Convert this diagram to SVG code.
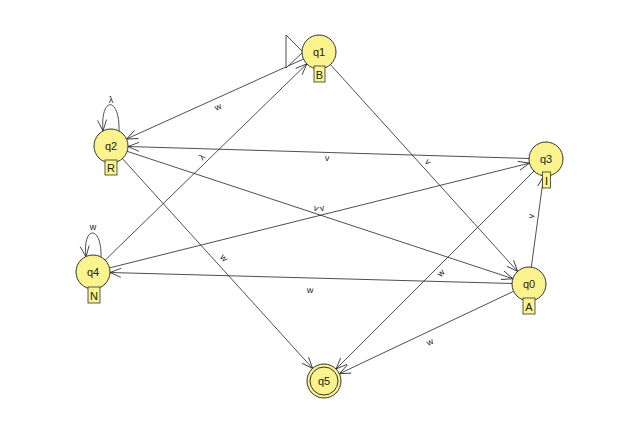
<svg xmlns="http://www.w3.org/2000/svg" width="640" height="426" viewBox="0 0 640 426">
<style>
.st{fill:#fbf38e;stroke:#333;stroke-width:1}
.box{fill:#fbf38e;stroke:#333;stroke-width:0.8}
.nl{font-family:"Liberation Sans",Arial,sans-serif;font-size:11px;fill:#222;text-anchor:middle;dominant-baseline:central}
.bl{font-family:"Liberation Sans",Arial,sans-serif;font-size:11px;fill:#222;text-anchor:middle;dominant-baseline:central}
.el{font-family:"Liberation Sans",Arial,sans-serif;font-size:9px;fill:#222;text-anchor:middle;dominant-baseline:central}
.e{fill:none;stroke:#222;stroke-width:0.8;marker-end:url(#ah)}
</style>
<defs>
<marker id="ah" markerUnits="userSpaceOnUse" markerWidth="14" markerHeight="12" viewBox="-12 -6 14 12" refX="0" refY="0" orient="auto">
<path d="M-11,-4.5 L0,0 L-11,4.5" fill="none" stroke="#222" stroke-width="0.8"/>
</marker>
</defs>
<rect width="640" height="426" fill="#fff"/>
<g id="connectors">
<line class="e" x1="303.5" y1="59" x2="126.5" y2="139"/>
<line class="e" x1="105.2" y1="260.1" x2="306.8" y2="63.9"/>
<line class="e" x1="330.4" y1="64.6" x2="517.6" y2="271.4"/>
<line class="e" x1="529" y1="158.5" x2="128" y2="146.5"/>
<line class="e" x1="127.1" y1="151.3" x2="512.9" y2="278.7"/>
<line class="e" x1="109.5" y1="267.9" x2="529.5" y2="163.1"/>
<line class="e" x1="122.4" y1="158.6" x2="312.6" y2="368.4"/>
<line class="e" x1="512" y1="283.5" x2="110" y2="272.5"/>
<line class="e" x1="531.3" y1="267.2" x2="543.7" y2="175.8"/>
<line class="e" x1="534" y1="171" x2="336" y2="369"/>
<line class="e" x1="513.6" y1="291.3" x2="339.4" y2="373.7"/>
<path class="e" d="M119,131 C120,96 100,96 103,131"/>
<path class="e" d="M101,257 C102,225 82,225 86,257"/>
<text class="el" transform="translate(218,107) rotate(-24.5)">w</text>
<text class="el" transform="translate(202,157) rotate(-44.5)">λ</text>
<text class="el" transform="translate(428,162) rotate(47.6)">v</text>
<text class="el" transform="translate(327,158) rotate(1.8)">v</text>
<text class="el" transform="translate(316,208) rotate(18.3)">v</text>
<text class="el" transform="translate(322,208) rotate(-13.9)">v</text>
<text class="el" transform="translate(224,258) rotate(48)">w</text>
<text class="el" transform="translate(310,290) rotate(1.6)">w</text>
<text class="el" transform="translate(531,216) rotate(-82.3)">v</text>
<text class="el" transform="translate(441,273) rotate(-45)">w</text>
<text class="el" transform="translate(430,342) rotate(-25.3)">w</text>
<text class="el" x="111" y="100">λ</text>
<text class="el" x="93" y="227">w</text>
</g>
<g id="q1">
<path d="M286,35 L286,68 L303,52 Z" fill="#fff" stroke="#222" stroke-width="0.8"/>
<circle class="st" cx="319" cy="52" r="17"/>
<text class="nl" x="319" y="52">q1</text>
<rect class="box" x="314" y="66" width="11" height="16"/>
<text class="bl" x="319.5" y="74.5">B</text>
</g>
<g id="q2">
<circle class="st" cx="111" cy="146" r="17"/>
<text class="nl" x="111" y="146">q2</text>
<rect class="box" x="105" y="160" width="12" height="15"/>
<text class="bl" x="111" y="168">R</text>
</g>
<g id="q3">
<circle class="st" cx="546" cy="159" r="17"/>
<text class="nl" x="546" y="159">q3</text>
<rect class="box" x="542.5" y="172" width="8" height="16"/>
<text class="bl" x="546.5" y="180.5">I</text>
</g>
<g id="q4">
<circle class="st" cx="93" cy="272" r="17"/>
<text class="nl" x="93" y="272">q4</text>
<rect class="box" x="88" y="287" width="12" height="16"/>
<text class="bl" x="94" y="295.5">N</text>
</g>
<g id="q0">
<circle class="st" cx="529" cy="284" r="17"/>
<text class="nl" x="529" y="284">q0</text>
<rect class="box" x="523" y="298" width="12" height="16"/>
<text class="bl" x="529" y="306.5">A</text>
</g>
<g id="q5">
<circle class="st" cx="324" cy="381" r="17"/>
<circle class="st" cx="324" cy="381" r="14"/>
<text class="nl" x="324" y="381">q5</text>
</g>
</svg>
